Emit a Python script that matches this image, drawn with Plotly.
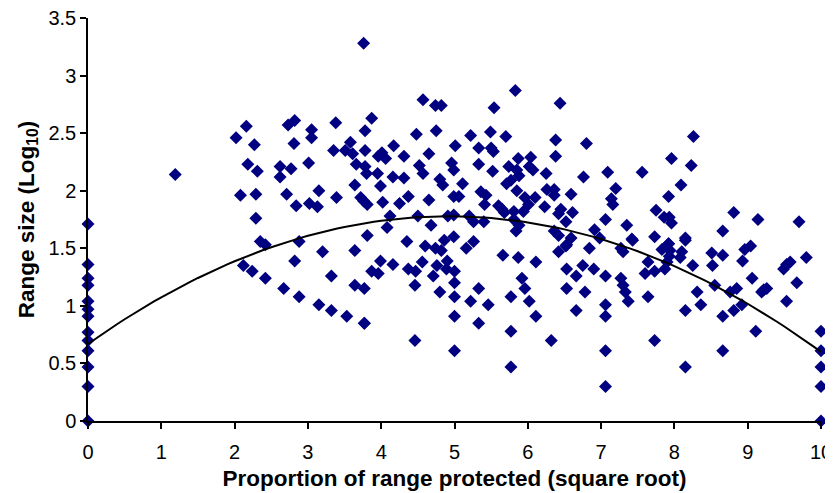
import numpy as np
import plotly.graph_objects as go

# Proportion of range protected (square root) and range size (log10)
x_zero = [0]*13
y_zero = [1.71, 1.36, 1.24, 1.18, 1.04, 0.97, 0.91, 0.77, 0.70, 0.61, 0.47, 0.30, 0.0]
x_ten = [10]*5
y_ten = [0.78, 0.61, 0.47, 0.30, 0.0]

x_main = [
    1.19, 3.76,
    2.16, 2.02, 2.27, 2.73, 2.82, 2.81, 3.05, 3.05, 3.38, 3.35, 3.51, 3.58, 3.61, 3.66,
    2.18, 2.31, 2.62, 2.77, 2.62, 3.01, 2.08, 2.29, 2.71, 3.15, 3.39, 3.64, 3.72,
    2.84, 3.02, 3.13, 2.29, 2.35, 2.42, 2.88, 3.64,
    3.20, 2.82, 2.12, 2.24, 2.42, 3.32, 3.64, 2.67, 2.88, 3.15, 3.32, 3.53, 3.77,
    5.83, 4.57, 4.74, 4.82, 5.54, 6.44, 3.87, 3.78, 4.48, 4.75, 5.22, 5.49, 5.70, 6.38,
    3.78, 4.17, 3.96, 4.01, 4.06, 4.31, 4.65, 5.01, 5.33, 5.50, 5.53, 5.87, 6.04, 6.38,
    3.78, 3.80, 3.95, 4.16, 4.31, 4.52, 4.57, 4.96, 4.99, 5.33, 5.52, 5.74, 5.85, 5.88,
    6.02, 6.07, 6.25, 3.99, 3.81, 3.76, 4.02, 4.25, 4.37, 4.65, 4.80, 4.84, 5.11, 4.99,
    5.06, 5.36, 5.43, 5.41, 5.71, 5.77, 5.85, 5.96, 6.10, 6.01, 6.26, 6.36, 6.36, 6.59,
    6.23, 6.45, 6.42, 6.61, 6.52, 5.60, 5.65, 5.68, 5.81, 5.94,
    4.12, 4.50, 4.91, 4.99, 5.20, 5.26, 5.40, 5.81, 5.88, 5.84, 6.36, 6.42, 6.53, 6.59,
    4.08, 4.68, 3.81, 4.35, 4.60, 4.74, 4.86, 4.99, 5.26, 5.16,
    4.82, 3.99, 3.87, 3.96, 4.16, 4.37, 4.47, 4.56, 4.76, 4.71, 4.90, 4.89,
    5.00, 5.00, 5.00, 5.00, 5.00, 4.46, 4.80, 3.77, 3.77, 4.46,
    5.33, 5.22, 5.46, 5.33, 5.66, 5.87, 6.11, 5.92, 5.96, 5.77, 6.02, 6.11, 5.77, 5.77,
    6.32, 6.42, 6.52, 6.53, 6.66, 6.53, 6.66,
    6.84, 6.75, 6.90, 7.06, 6.78, 7.06, 7.06, 7.06, 7.06, 7.43, 7.27, 7.30, 7.27, 7.30,
    7.33, 7.37, 7.64, 7.60, 7.73, 7.64, 7.73, 7.83, 7.92, 7.94, 7.93, 7.90, 7.87,
    8.15, 8.10, 8.08, 8.25, 8.15, 8.15, 8.31, 8.36, 8.51, 8.66, 8.52, 8.55, 8.76, 8.85,
    8.66, 8.81, 8.92, 8.66, 8.96, 9.04, 8.93, 9.06, 9.11, 9.19, 9.22, 9.26,
    9.49, 9.53, 9.58, 9.67, 9.53, 9.80,
    6.80, 8.26, 7.96, 8.23, 6.76, 7.09, 7.56, 7.20, 8.09, 7.14, 7.16, 7.92, 7.75,
    7.86, 7.93, 7.96, 7.06, 7.35, 6.91, 6.98, 7.42, 7.73, 8.15, 7.92, 8.81, 9.14,
    9.70, 8.66,
]
y_main = [
    2.14, 3.28,
    2.56, 2.46, 2.40, 2.57, 2.61, 2.41, 2.53, 2.46, 2.59, 2.35, 2.35, 2.42, 2.32, 2.23,
    2.23, 2.17, 2.21, 2.19, 2.12, 2.24, 1.96, 1.97, 1.97, 2.00, 1.94, 2.05, 1.94,
    1.87, 1.89, 1.86, 1.76, 1.56, 1.53, 1.56, 1.48,
    1.47, 1.39, 1.35, 1.30, 1.24, 1.26, 1.18, 1.15, 1.08, 1.01, 0.96, 0.91, 0.85,
    2.87, 2.79, 2.74, 2.74, 2.72, 2.76, 2.63, 2.52, 2.49, 2.52, 2.48, 2.51, 2.47, 2.44,
    2.35, 2.39, 2.30, 2.33, 2.28, 2.30, 2.32, 2.39, 2.37, 2.37, 2.34, 2.28, 2.29, 2.30,
    2.21, 2.15, 2.15, 2.12, 2.11, 2.22, 2.15, 2.24, 2.18, 2.23, 2.17, 2.21, 2.18, 2.13,
    2.21, 2.18, 2.15, 2.04, 1.88, 1.91, 1.90, 1.89, 1.95, 1.92, 2.10, 2.05, 2.06, 1.95,
    1.95, 1.99, 1.96, 1.88, 2.06, 2.09, 2.00, 1.94, 1.94, 1.88, 2.01, 2.01, 1.96, 1.97,
    1.86, 1.84, 1.80, 1.81, 1.73, 1.87, 1.84, 1.81, 1.82, 1.82,
    1.78, 1.78, 1.78, 1.79, 1.78, 1.73, 1.73, 1.75, 1.70, 1.65, 1.65, 1.61, 1.53, 1.59,
    1.68, 1.70, 1.61, 1.56, 1.52, 1.50, 1.57, 1.60, 1.56, 1.50,
    1.48, 1.39, 1.30, 1.28, 1.36, 1.32, 1.30, 1.38, 1.35, 1.26, 1.39, 1.32,
    1.30, 1.20, 1.08, 0.91, 0.61, 1.18, 1.12, 1.15, 0.85, 0.70,
    1.15, 1.04, 1.01, 0.85, 1.44, 1.42, 1.38, 1.24, 1.15, 1.08, 1.04, 0.91, 0.78, 0.47,
    0.70, 1.47, 1.52, 1.32, 1.26, 1.15, 0.96,
    1.50, 1.35, 1.32, 1.26, 1.12, 1.01, 0.91, 0.61, 0.30, 1.57, 1.50, 1.47, 1.24, 1.18,
    1.12, 1.04, 1.38, 1.28, 1.30, 1.08, 0.70, 1.49, 1.54, 1.48, 1.43, 1.38, 1.32,
    1.57, 1.47, 1.42, 1.35, 0.96, 0.47, 1.12, 1.01, 1.46, 1.44, 1.35, 1.18, 1.12, 1.15,
    0.91, 0.96, 1.01, 0.61, 1.49, 1.52, 1.39, 1.24, 0.78, 1.12, 1.14, 1.15,
    1.32, 1.36, 1.38, 1.20, 1.04, 1.42,
    2.41, 2.47, 2.28, 2.22, 2.12, 2.16, 2.16, 2.02, 2.05, 1.93, 1.88, 1.95, 1.83,
    1.77, 1.77, 1.72, 1.75, 1.70, 1.66, 1.59, 1.58, 1.60, 1.59, 1.54, 1.81, 1.75,
    1.73, 1.65,
]

x_points = x_zero + x_main + x_ten
y_points = y_zero + y_main + y_ten

# Polynomial (order 2) trendline coefficients: y = c0 + c1*x + c2*x^2
trend_c0 = 0.67
trend_c1 = 0.45
trend_c2 = -0.0457

x_line = np.linspace(0, 10, 101)
y_line = trend_c0 + trend_c1 * x_line + trend_c2 * x_line**2

fig = go.Figure()
fig.add_trace(go.Scatter(
    x=x_points, y=y_points, mode="markers",
    marker=dict(symbol="diamond", size=10, color="#000080", line=dict(width=0)),
    cliponaxis=False, showlegend=False, hoverinfo="x+y",
))
fig.add_trace(go.Scatter(
    x=x_line, y=y_line, mode="lines",
    line=dict(color="black", width=2),
    showlegend=False, hoverinfo="skip",
))

font_family = "Liberation Sans, Arial, Helvetica, sans-serif"
fig.update_layout(
    width=833, height=493,
    margin=dict(l=80, r=20, t=10, b=80),
    paper_bgcolor="white", plot_bgcolor="white",
    font=dict(family=font_family, size=20, color="black"),
    xaxis=dict(
        range=[0, 10], tickmode="linear", tick0=0, dtick=1, automargin=False,
        showgrid=False, zeroline=False, showline=True, linecolor="black", linewidth=1.5,
        ticks="outside", ticklen=6, tickwidth=1.5, tickcolor="black",
        tickfont=dict(size=20), ticklabelstandoff=6, ticklabeloverflow="allow",
        title=dict(text="<b>Proportion of range protected (square root)</b>",
                   font=dict(size=22.5), standoff=8),
    ),
    yaxis=dict(
        range=[0, 3.5], tickmode="linear", tick0=0, dtick=0.5, automargin=False,
        showgrid=False, zeroline=False, showline=True, linecolor="black", linewidth=1.5,
        ticks="outside", ticklen=6, tickwidth=1.5, tickcolor="black",
        tickfont=dict(size=20), ticklabeloverflow="allow",
        title=dict(text="<b>Range size (Log<sub>10</sub>)</b>",
                   font=dict(size=22.5), standoff=8),
    ),
)

fig.write_html("out.html")
